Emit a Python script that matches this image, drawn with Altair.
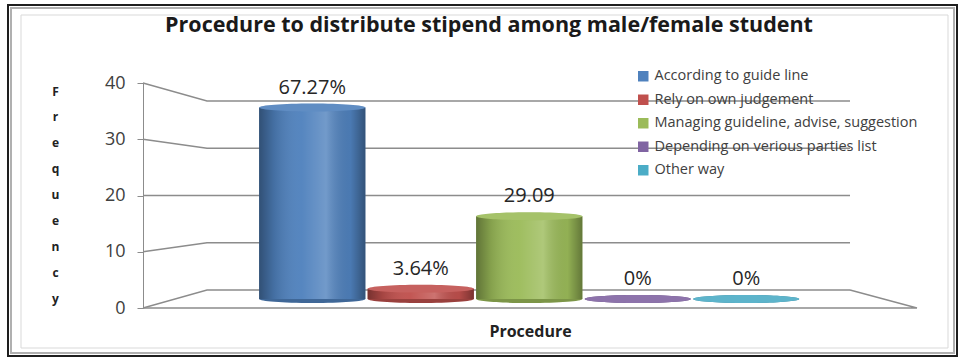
import altair as alt
import pandas as pd

# ---- chart data -----------------------------------------------------------
categories = [
    "According to guide line",
    "Rely on own judgement",
    "Managing guideline, advise, suggestion",
    "Depending on verious parties list",
    "Other way",
]
frequency = [37, 2, 16, 0, 0]
value_labels = ["67.27%", "3.64%", "29.09", "0%", "0%"]
palette = ["#4F81BD", "#C0504D", "#9BBB59", "#8064A2", "#4BACC6"]
y_ticks = [0, 10, 20, 30, 40]
title_text = "Procedure to distribute stipend among male/female student"
x_title = "Procedure"
y_title = "Frequency"

# ---- layout / 3-D look ----------------------------------------------------
W, H = 774, 225
FONT = "Open Sans"
BACK_LEFT, BACK_RIGHT = 64 / W, 707 / W     # back wall ends, as a share of floor width
BACK_K, BACK_C = 0.84, 3.2                  # back wall depth, in front-axis units
MID_K, MID_C = 0.92, 1.6                    # depth where the cylinders stand
CAP = "M -1 0 C -1 -0.041 -0.552 -0.075 0 -0.075 C 0.552 -0.075 1 -0.041 1 0 " \
      "C 1 0.041 0.552 0.075 0 0.075 C -0.552 0.075 -1 0.041 -1 0 Z"
CAP_SIZE = 106 ** 2
GRID = "#8c8c8c"

# walls and floor outline, drawn from the tick values
rows = []
for t in y_ticks:
    back = BACK_K * t + BACK_C
    rows += [
        {"line": f"g{t}", "seq": 0, "px": 0.0, "py": t},
        {"line": f"g{t}", "seq": 1, "px": BACK_LEFT, "py": back},
        {"line": f"g{t}", "seq": 2, "px": BACK_RIGHT, "py": back},
    ]
rows += [
    {"line": "floor", "seq": 0, "px": BACK_RIGHT, "py": BACK_C},
    {"line": "floor", "seq": 1, "px": 1.0, "py": 0},
    {"line": "floor", "seq": 2, "px": 0.0, "py": 0},
]
walls = pd.DataFrame(rows)

bars = pd.DataFrame({"category": categories, "freq": frequency, "label": value_labels})

y_scale = alt.Scale(domain=[0, 40], nice=False, zero=True)
x_band = alt.Scale(type="band", domain=categories, range=[115, 657.5],
                   paddingInner=0.02, paddingOuter=0.01)
color_scale = alt.Scale(domain=categories, range=palette)

base = alt.Chart(bars).transform_calculate(
    top=f"{MID_K} * datum.freq + {MID_C}",
    bottom=f"{MID_C}",
)
xb = alt.X("category:N", scale=x_band, axis=None, sort=categories)

wall_lines = alt.Chart(walls).mark_line(color=GRID, strokeWidth=1.3).encode(
    x=alt.X("px:Q", scale=alt.Scale(domain=[0, 1], nice=False, zero=False), axis=None),
    y=alt.Y("py:Q", scale=y_scale, axis=alt.Axis(
        values=y_ticks, grid=False, domainColor=GRID, tickColor=GRID, tickSize=6,
        labelFont=FONT, labelFontSize=18, labelColor="#404040", labelPadding=12,
        title=list(y_title), titleAngle=0, titleFont=FONT, titleFontSize=12,
        titleFontWeight="bold", titleColor="#222222", titleLineHeight=25.9,
        titleX=-88, titleY=3, titleBaseline="top", titleAlign="center")),
    detail="line:N",
    order="seq:Q",
)

bottom_caps = base.mark_point(shape=CAP, size=CAP_SIZE, filled=True, opacity=1,
                              strokeWidth=0).encode(
    x=xb, y=alt.Y("bottom:Q", scale=y_scale, axis=None),
    color=alt.Color("category:N", scale=color_scale, legend=None),
)
bottom_shade = base.mark_point(shape=CAP, size=CAP_SIZE, filled=True, color="black",
                               opacity=0.2, strokeWidth=0).encode(
    x=xb, y=alt.Y("bottom:Q", scale=y_scale, axis=None),
)

bodies = base.mark_bar().encode(
    x=alt.X("category:N", scale=x_band, sort=categories, axis=alt.Axis(
        labels=False, ticks=False, domain=False, title=x_title, titleFont=FONT,
        titleFontSize=16, titleFontWeight="bold", titleColor="#222222",
        titleX=W / 2, titleY=23, titleBaseline="middle", titleAlign="center")),
    y=alt.Y("top:Q", scale=y_scale, axis=None),
    y2="bottom:Q",
    color=alt.Color("category:N", scale=color_scale, legend=alt.Legend(
        orient="none", legendX=493, legendY=-14, title=None, labelFont=FONT,
        labelFontSize=14.5, labelColor="#404040", symbolType="square",
        symbolSize=110, symbolStrokeWidth=0, rowPadding=8.5, labelOffset=4,
        labelLimit=400)),
)

# cylinder shading: dark rims, bright streak right of centre
shine = alt.Gradient(
    gradient="linear", x1=0, x2=1, y1=0, y2=0,
    stops=[
        alt.GradientStop(color="rgba(0,0,0,0.38)", offset=0),
        alt.GradientStop(color="rgba(0,0,0,0.14)", offset=0.14),
        alt.GradientStop(color="rgba(255,255,255,0.04)", offset=0.4),
        alt.GradientStop(color="rgba(255,255,255,0.2)", offset=0.63),
        alt.GradientStop(color="rgba(0,0,0,0.06)", offset=0.86),
        alt.GradientStop(color="rgba(0,0,0,0.36)", offset=1),
    ],
)
body_shade = base.mark_bar(fill=shine).encode(
    x=xb, y=alt.Y("top:Q", scale=y_scale, axis=None), y2="bottom:Q",
)

top_caps = base.mark_point(shape=CAP, size=CAP_SIZE, filled=True, opacity=1,
                           strokeWidth=0).encode(
    x=xb, y=alt.Y("top:Q", scale=y_scale, axis=None),
    color=alt.Color("category:N", scale=color_scale, legend=None),
)
top_shine = base.mark_point(shape=CAP, size=CAP_SIZE, filled=True, color="white",
                            opacity=0.1, strokeWidth=0).encode(
    x=xb, y=alt.Y("top:Q", scale=y_scale, axis=None),
)

labels = base.mark_text(font=FONT, fontSize=20, color="#262626", dy=-20,
                        baseline="middle").encode(
    x=xb, y=alt.Y("top:Q", scale=y_scale, axis=None), text="label:N",
)

# chart title and the double border around the whole figure
one = pd.DataFrame({"k": [0]})
title = alt.Chart(one).mark_text(
    text=title_text, font=FONT, fontSize=21.5, fontWeight="bold", color="#1a1a1a",
    align="center", baseline="alphabetic",
).encode(x=alt.value(346), y=alt.value(-51))

outer = alt.Chart(one).mark_rect(fill=None, stroke="#1e1e1e", strokeWidth=2).encode(
    x=alt.value(-135), x2=alt.value(814), y=alt.value(-78), y2=alt.value(273))
outer_in = alt.Chart(one).mark_rect(fill=None, stroke="#b0b0b0", strokeWidth=2).encode(
    x=alt.value(-132), x2=alt.value(811), y=alt.value(-75), y2=alt.value(270))
inner = alt.Chart(one).mark_rect(fill=None, stroke="#d9d9d9", strokeWidth=1).encode(
    x=alt.value(-122), x2=alt.value(805), y=alt.value(-68), y2=alt.value(265))

chart = alt.layer(
    outer, outer_in, inner, title, wall_lines,
    bottom_caps, bottom_shade, bodies, body_shade, top_caps, top_shine, labels,
).resolve_scale(x="independent").resolve_axis(
    x="independent", y="independent"
).resolve_legend(color="independent").properties(
    width=W, height=H,
    padding={"left": 143, "top": 83, "right": 45, "bottom": 53},
    autosize=alt.AutoSizeParams(type="none"),
    background="white",
).configure_view(stroke=None)

chart.save("out.html", embed_options={"renderer": "svg", "actions": False})
